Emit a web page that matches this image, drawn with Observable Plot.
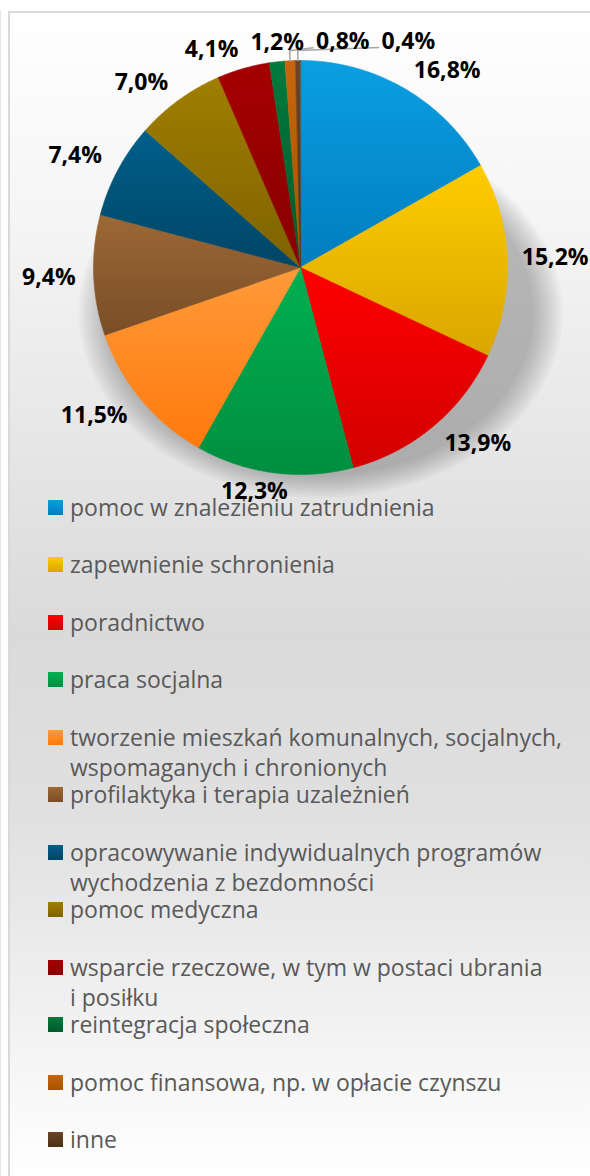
<!DOCTYPE html>
<html><head><meta charset="utf-8">
<script src="https://cdn.jsdelivr.net/npm/d3@7"></script>
<script src="https://cdn.jsdelivr.net/npm/@observablehq/plot@0.6"></script>
<style>
html,body{margin:0;padding:0;width:590px;height:1176px;overflow:hidden;background:#fff;}
#edge{position:absolute;left:0;top:10px;width:1px;height:1200px;background:#e8e8e8;}
#frame{position:absolute;left:8px;top:11px;width:700px;height:1250px;border-left:2px solid #d9d9d9;border-top:2px solid #d9d9d9;background:linear-gradient(to bottom,#ffffff 0px,#f4f4f4 220px,#dadada 620px,#e0e0e0 800px,#ffffff 1165px);}
#chart{position:absolute;left:0;top:0;}
#legend{position:absolute;left:0;top:0;width:590px;height:1176px;font-family:"Open Sans",sans-serif;font-size:23px;color:#595959;}
.row{position:absolute;left:70px;line-height:30px;white-space:pre;}
.sw{position:absolute;left:48px;width:15px;height:15px;}
</style></head><body>
<div id="edge"></div><div id="frame"></div><div id="chart"></div><div id="legend"></div>
<script>
// ---- data ----
const categories = [
  "pomoc w znalezieniu zatrudnienia",
  "zapewnienie schronienia",
  "poradnictwo",
  "praca socjalna",
  "tworzenie mieszkań komunalnych, socjalnych,\nwspomaganych i chronionych",
  "profilaktyka i terapia uzależnień",
  "opracowywanie indywidualnych programów\nwychodzenia z bezdomności",
  "pomoc medyczna",
  "wsparcie rzeczowe, w tym w postaci ubrania\ni posiłku",
  "reintegracja społeczna",
  "pomoc finansowa, np. w opłacie czynszu",
  "inne"
];
const shares = [16.8, 15.2, 13.9, 12.3, 11.5, 9.4, 7.4, 7.0, 4.1, 1.2, 0.8, 0.4];
const colorsTop = ["#0a9fe2","#ffcc00","#ff0000","#00b050","#ff9a3a","#9c6835","#005f8a","#a07e00","#a50000","#007a3d","#c8660c","#6b4526"];
const colorsBottom = ["#007dbf","#d9a600","#d20000","#008e40","#ff7a0c","#7a4d27","#004566","#7e6200","#870000","#005a2b","#a65200","#4d3017"];

// ---- layout ----
const W = 590, H = 505, CX = 300, CY = 267, R = 207;
const labels = shares.map(v => v.toFixed(1).replace(".", ",") + "%");
const arcs = d3.pie().sort(null).value(d => d)(shares);
const pt = (a, r) => [CX + r * Math.sin(a), CY - r * Math.cos(a)];

const slices = arcs.map((a, i) => {
  const pts = [{x: CX, y: CY}];
  const n = Math.max(2, Math.ceil((a.endAngle - a.startAngle) / (Math.PI / 360)));
  for (let k = 0; k <= n; k++) {
    const t = a.startAngle + (a.endAngle - a.startAngle) * k / n;
    const [x, y] = pt(t, R);
    pts.push({x, y});
  }
  return pts;
});
// soft perspective shadow: stacked, slightly growing copies of a flattened, lowered pie outline
const shadowPts = [];
d3.range(12).forEach(k => {
  const f = 0.96 + k * 0.012;
  d3.range(0, 361, 2).forEach(d => {
    const t = d * Math.PI / 180;
    shadowPts.push({layer: k, x: CX + 20 + R * 1.07 * f * Math.sin(t), y: CY + 45 - R * 0.82 * f * Math.cos(t)});
  });
});

// label placement (outside end) + simple collision spreading
const ctx = document.createElement("canvas").getContext("2d");
ctx.font = 'bold 23px "Open Sans"';
const LH = 22, GX = 18, GY = 8, GAP = 12;
const sg = v => Math.max(-1, Math.min(1, v * 4));
const lab = arcs.map((a, i) => {
  const m = (a.startAngle + a.endAngle) / 2, s = Math.sin(m), c = Math.cos(m);
  const w = ctx.measureText(labels[i]).width;
  const [px, py] = pt(m, R);
  let x = px + sg(s) * w / 2 + s * GX;
  x = Math.min(x, W - 2 - w / 2);
  const y = py - sg(c) * LH / 2 - c * GY;
  return {i, m, w, x, y, x0: x, text: labels[i]};
});
const order = lab.filter(d => d.y < CY).sort((a, b) => a.x - b.x);
order.forEach((d, k) => {
  for (let j = 0; j < k; j++) {
    const p = order[j];
    if (Math.abs(p.y - d.y) < LH && d.x - d.w / 2 < p.x + p.w / 2 + GAP) d.x = p.x + p.w / 2 + GAP + d.w / 2;
  }
});
const leaders = [];
lab.forEach(d => {
  if (Math.abs(d.x - d.x0) > 20) {
    const [x1, y1] = pt(d.m, R), [x2, y2] = pt(d.m, R + 10);
    leaders.push({id: d.i, x: x1, y: y1}, {id: d.i, x: x2, y: y2}, {id: d.i, x: d.x - d.w / 2 - 3, y: d.y + 6});
  }
});

const marks = [
  Plot.line(shadowPts, {x: "x", y: "y", z: "layer", curve: "linear-closed", fill: "#3a3a3a", fillOpacity: 0.032, stroke: "none"}),
  ...slices.map((pts, i) => Plot.line(pts, {x: "x", y: "y", curve: "linear-closed", fill: `url(#g${i})`, stroke: `url(#g${i})`, strokeWidth: 0.6})),
  Plot.line(leaders, {x: "x", y: "y", z: "id", stroke: "#a6a6a6", strokeWidth: 1.5}),
  Plot.text(lab, {x: "x", y: "y", text: "text", fontSize: 23, fontWeight: "bold", fill: "#000", textAnchor: "middle", lineAnchor: "middle"})
];

const svg = Plot.plot({
  width: W, height: H, margin: 0,
  x: {domain: [0, W], range: [0, W], axis: null},
  y: {domain: [0, H], range: [0, H], axis: null},
  style: {background: "transparent", fontFamily: '"Open Sans", sans-serif', overflow: "visible"},
  marks
});
const defs = d3.select(svg).insert("defs", ":first-child");
colorsTop.forEach((c, i) => {
  const g = defs.append("linearGradient").attr("id", "g" + i).attr("x1", 0).attr("y1", 0).attr("x2", 0).attr("y2", 1);
  g.append("stop").attr("offset", 0).attr("stop-color", c);
  g.append("stop").attr("offset", 1).attr("stop-color", colorsBottom[i]);
});
document.getElementById("chart").appendChild(svg);

// ---- legend ----
const leg = d3.select("#legend");
categories.forEach((c, i) => {
  const top = 492 + i * 57.45;
  leg.append("div").attr("class", "sw").style("top", (top + 8) + "px")
    .style("background", `linear-gradient(to bottom, ${colorsTop[i]}, ${colorsBottom[i]})`);
  leg.append("div").attr("class", "row").style("top", top + "px").text(c);
});
</script>
</body></html>
